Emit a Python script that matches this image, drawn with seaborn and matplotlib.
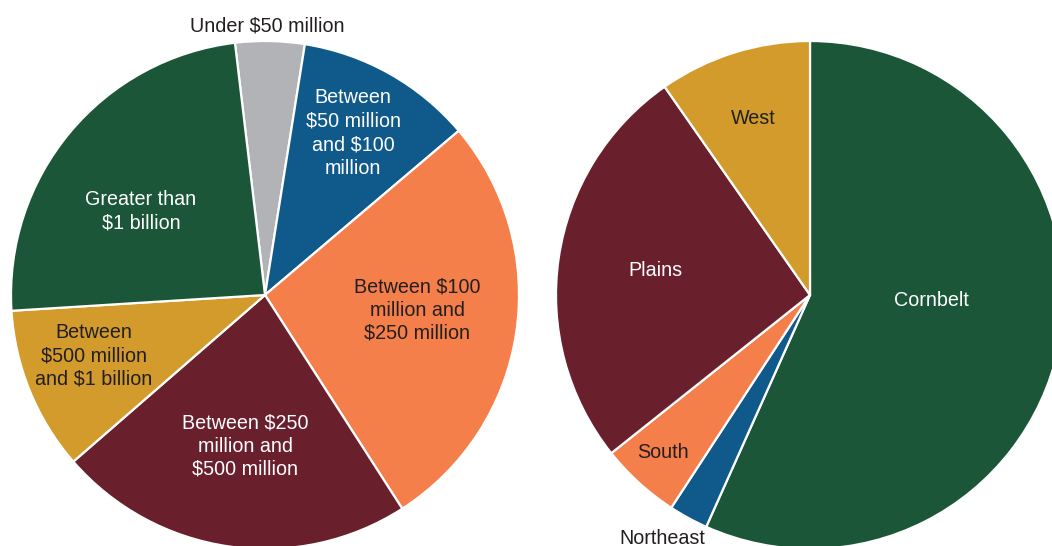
import matplotlib
matplotlib.use("Agg")
import matplotlib.pyplot as plt
import seaborn as sns

sns.set_theme(style="white")
plt.rcParams['font.family'] = ['Liberation Sans', 'DejaVu Sans']

# Left pie: revenue class shares (percent), clockwise from the top
size_labels = ["Under $50 million", "Between\n$50 million\nand $100\nmillion",
               "Between $100\nmillion and\n$250 million", "Between $250\nmillion and\n$500 million",
               "Between\n$500 million\nand $1 billion", "Greater than\n$1 billion"]
size_shares = [4.4, 11.3, 27.1, 22.7, 10.4, 24.1]
size_colors = ["#b1b3b6", "#0f5a8b", "#f47f4b", "#6a1f2c", "#d29b2c", "#1a5637"]

# Right pie: regional shares (percent), clockwise from the top
region_labels = ["Cornbelt", "Northeast", "South", "Plains", "West"]
region_shares = [56.7, 2.5, 5.1, 26.0, 9.7]
region_colors = ["#1a5637", "#0f5a8b", "#f47f4b", "#6a1f2c", "#d29b2c"]

W, H = 1052, 546
fig = plt.figure(figsize=(W / 100, H / 100), dpi=100)
ax = fig.add_axes([0, 0, 1, 1])

wedge_style = dict(edgecolor="white", linewidth=1.6)

ax.pie(size_shares, colors=size_colors, center=(265, H - 295), radius=254,
       startangle=96.8, counterclock=False, wedgeprops=wedge_style, frame=True)
ax.pie(region_shares, colors=region_colors, center=(810, H - 295), radius=254,
       startangle=90, counterclock=False, wedgeprops=wedge_style, frame=True)
ax.set_xlim(0, W)
ax.set_ylim(0, H)
ax.set_aspect("equal")
ax.axis("off")

dark = "#231f20"
# label placement (pixel positions from the top-left) and text colour
left_pos = [(267, 26, dark), (353, 133, "white"), (417, 310, dark),
            (245, 446, "white"), (94, 356, dark), (141, 211, "white")]
right_pos = [(931, 300, "white"), (662, 538, dark), (663, 452, dark),
             (655, 270, "white"), (753, 119, dark)]

for lab, (x, y, c) in zip(size_labels, left_pos):
    ax.text(x, H - y, lab, ha="center", va="center", color=c,
            fontsize=14.2, linespacing=1.3)
for lab, (x, y, c) in zip(region_labels, right_pos):
    ax.text(x, H - y, lab, ha="center", va="center", color=c,
            fontsize=14.2, linespacing=1.3)

fig.savefig("out.png", dpi=100)
